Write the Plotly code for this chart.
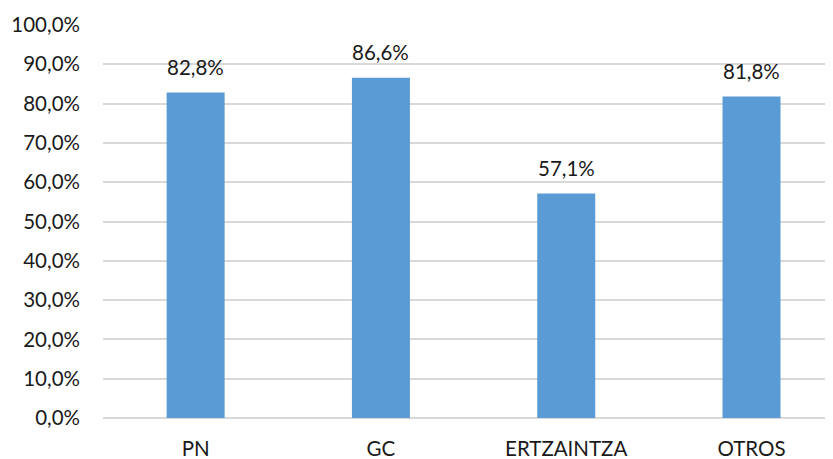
import plotly.graph_objects as go

categories = ["PN", "GC", "ERTZAINTZA", "OTROS"]
values = [82.8, 86.6, 57.1, 81.8]
y_ticks = [0, 10, 20, 30, 40, 50, 60, 70, 80, 90, 100]
y_tick_labels = ["0,0%", "10,0%", "20,0%", "30,0%", "40,0%", "50,0%", "60,0%",
                 "70,0%", "80,0%", "90,0%", "100,0%"]
value_labels = [f"{v:.1f}%".replace(".", ",") for v in values]

FONT = "Lato, 'Open Sans', sans-serif"
TXT = "#1a1a1a"
FS = 20.5

fig = go.Figure()
fig.add_trace(go.Bar(
    x=list(range(len(categories))),
    y=values,
    width=0.313,
    marker=dict(color="#5B9BD5", line=dict(width=0)),
    hoverinfo="skip",
))

for i, (v, lab) in enumerate(zip(values, value_labels)):
    fig.add_annotation(x=i, y=v, text=lab, showarrow=False, yanchor="bottom",
                       yshift=12, font=dict(family=FONT, size=FS, color=TXT))

fig.update_layout(
    width=833, height=459,
    margin=dict(l=95, r=0, t=17, b=49, autoexpand=False),
    paper_bgcolor="white", plot_bgcolor="white",
    showlegend=False,
    bargap=0.5,
    font=dict(family=FONT, size=FS, color=TXT),
)
fig.update_xaxes(
    range=[-0.5, 3.483],
    tickmode="array", tickvals=list(range(len(categories))), ticktext=categories,
    showgrid=False, zeroline=False, showline=False, ticks="",
    ticklabelstandoff=16, automargin=False,
    tickfont=dict(family=FONT, size=FS, color=TXT),
)
fig.update_yaxes(
    range=[0, 100],
    tickmode="array", tickvals=y_ticks, ticktext=y_tick_labels,
    showgrid=True, gridcolor="#D9D9D9", gridwidth=2,
    zeroline=True, zerolinecolor="#D9D9D9", zerolinewidth=2,
    showline=False, ticks="",
    ticklabelstandoff=22, automargin=False,
    tickfont=dict(family=FONT, size=FS, color=TXT),
)

fig.write_html("out.html")
